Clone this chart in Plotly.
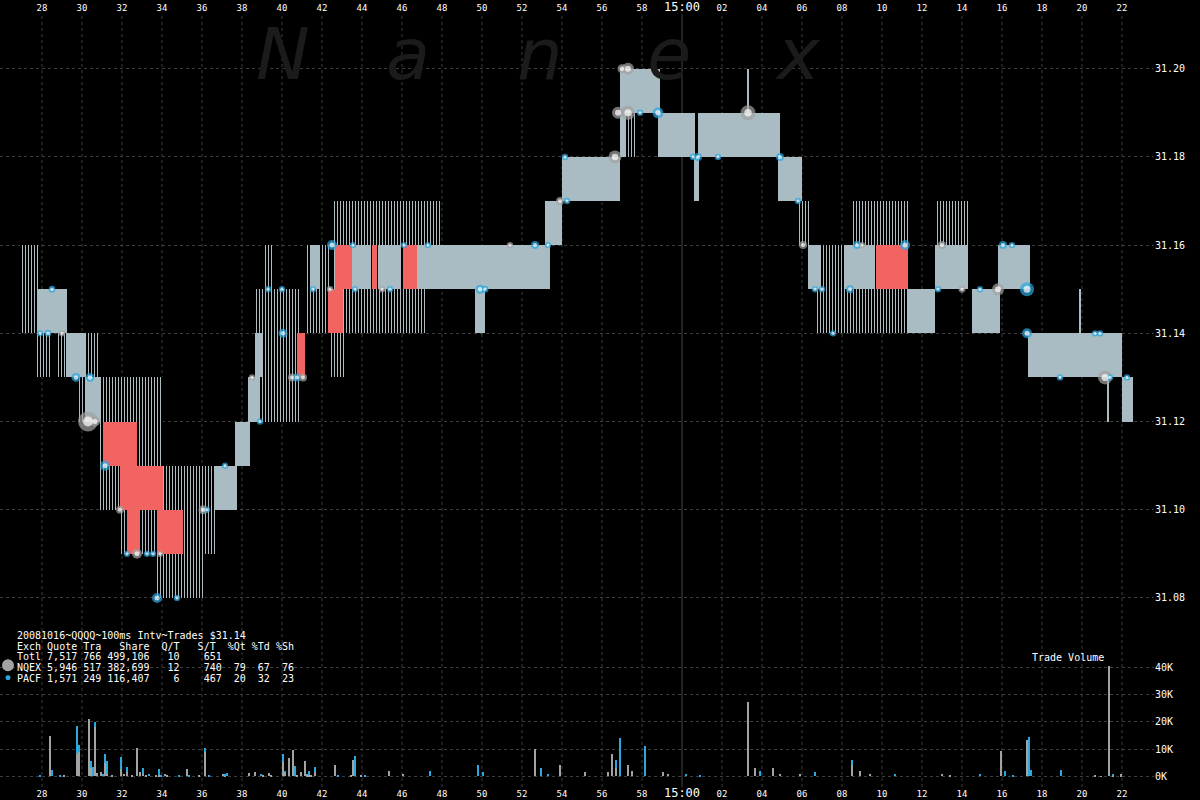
import plotly.graph_objects as go
import numpy as np

# ---------------- DATA ----------------
# minutes after 14:00
x_tick_minutes = [28, 30, 32, 34, 36, 38, 40, 42, 44, 46, 48, 50, 52, 54, 56, 58,
                  60, 62, 64, 66, 68, 70, 72, 74, 76, 78, 80, 82]
x_tick_labels = ["28", "30", "32", "34", "36", "38", "40", "42", "44", "46", "48", "50",
                 "52", "54", "56", "58", "15:00", "02", "04", "06", "08", "10", "12",
                 "14", "16", "18", "20", "22"]
price_ticks = [31.08, 31.10, 31.12, 31.14, 31.16, 31.18, 31.20]
price_tick_labels = ["31.08", "31.10", "31.12", "31.14", "31.16", "31.18", "31.20"]
vol_ticks = [0, 10000, 20000, 30000, 40000]
vol_tick_labels = ["0K", "10K", "20K", "30K", "40K"]

# sparse (hatched) quote intervals
hatch_start = [26.90, 27.75, 28.75, 30.15, 29.75, 30.90, 30.90, 34.05, 31.90, 33.65,
               38.65, 39.10, 41.15, 42.40, 42.55, 47.15, 57.00, 65.80, 66.65, 68.50,
               68.40, 72.65]
hatch_end = [27.80, 28.40, 29.25, 30.80, 30.90, 34.05, 31.90, 36.65, 34.05, 36.15,
             40.90, 39.50, 42.40, 43.15, 47.15, 47.90, 57.65, 66.40, 68.40, 71.40,
             72.65, 74.40]
hatch_bid = [31.14, 31.13, 31.13, 31.13, 31.12, 31.11, 31.10, 31.09, 31.09, 31.08,
             31.12, 31.15, 31.14, 31.13, 31.14, 31.16, 31.18, 31.16, 31.14, 31.15,
             31.14, 31.15]
hatch_ask = [31.16, 31.14, 31.14, 31.14, 31.13, 31.13, 31.11, 31.11, 31.10, 31.09,
             31.15, 31.16, 31.16, 31.14, 31.17, 31.17, 31.19, 31.17, 31.16, 31.17,
             31.15, 31.17]

# dense (solid) quote intervals
solid_start = [27.75, 29.20, 30.20, 36.65, 37.65, 38.30, 38.65, 41.40, 43.50, 44.80,
               46.75, 49.65, 50.15, 53.15, 54.00, 56.90, 57.00, 58.80, 60.60, 60.80,
               63.25, 64.80, 66.30, 68.15, 71.30, 72.65, 74.50, 75.80, 77.30, 82.00,
               79.85, 81.25]
solid_end = [29.25, 30.15, 30.90, 37.75, 38.40, 38.90, 39.00, 41.90, 44.40, 45.90,
             49.65, 50.15, 53.40, 54.00, 56.90, 57.15, 58.90, 60.65, 60.85, 64.90,
             63.35, 66.00, 66.90, 69.65, 72.65, 74.30, 75.90, 77.40, 82.00, 82.55,
             79.95, 81.35]
solid_bid = [31.14, 31.13, 31.12, 31.10, 31.11, 31.12, 31.13, 31.15, 31.15, 31.15,
             31.15, 31.14, 31.15, 31.16, 31.17, 31.18, 31.19, 31.18, 31.17, 31.18,
             31.19, 31.17, 31.15, 31.15, 31.14, 31.15, 31.14, 31.15, 31.13, 31.12,
             31.14, 31.12]
solid_ask = [31.15, 31.14, 31.13, 31.11, 31.12, 31.13, 31.14, 31.16, 31.16, 31.16,
             31.16, 31.16, 31.16, 31.17, 31.18, 31.20, 31.20, 31.19, 31.18, 31.19,
             31.20, 31.18, 31.16, 31.16, 31.15, 31.16, 31.15, 31.16, 31.14, 31.13,
             31.15, 31.13]

# crossed / locked quote intervals
red_start = [31.05, 31.90, 32.25, 33.75, 40.75, 42.30, 42.65, 44.50, 46.05, 69.70]
red_end = [32.75, 34.05, 32.90, 35.05, 41.15, 43.05, 43.50, 44.75, 46.75, 71.30]
red_bid = [31.11, 31.10, 31.09, 31.09, 31.13, 31.14, 31.15, 31.15, 31.15, 31.15]
red_ask = [31.12, 31.11, 31.10, 31.10, 31.14, 31.15, 31.16, 31.16, 31.16, 31.16]

# trades
trade_time = [28.5, 27.9, 28.3, 29.0, 29.7, 30.4, 30.3, 30.65, 31.15, 31.9,
              32.25, 32.75, 33.25, 33.55, 33.9, 33.75, 34.75, 36.05, 36.25, 37.15,
              38.5, 38.9, 39.3, 40.0, 40.05, 40.5, 40.75, 41.05, 41.55, 42.5,
              42.4, 43.55, 43.65, 45.0, 45.4, 46.1, 47.3, 49.9, 50.15, 51.4,
              52.65, 53.3, 53.9, 54.25, 54.15, 56.65, 57.0, 57.3, 56.8, 57.3,
              57.9, 58.8, 60.55, 60.8, 61.8, 63.3, 64.9, 65.8, 66.05, 66.65,
              67.0, 67.55, 68.4, 68.75, 69.0, 71.15, 72.8, 73.0, 74.0, 74.9,
              75.8, 76.05, 76.5, 77.25, 77.25, 78.9, 80.65, 80.9, 81.15, 81.4, 82.25]
trade_price = [31.15, 31.14, 31.14, 31.14, 31.13, 31.13, 31.12, 31.12, 31.11, 31.10,
               31.09, 31.09, 31.09, 31.09, 31.09, 31.08, 31.08, 31.10, 31.10, 31.11,
               31.13, 31.12, 31.15, 31.15, 31.14, 31.13, 31.13, 31.13, 31.15, 31.16,
               31.15, 31.16, 31.15, 31.15, 31.15, 31.16, 31.16, 31.15, 31.15, 31.16,
               31.16, 31.16, 31.17, 31.17, 31.18, 31.18, 31.20, 31.20, 31.19, 31.19,
               31.19, 31.19, 31.18, 31.18, 31.18, 31.19, 31.18, 31.17, 31.16, 31.15,
               31.15, 31.14, 31.15, 31.16, 31.16, 31.16, 31.15, 31.16, 31.15, 31.15,
               31.15, 31.16, 31.16, 31.15, 31.14, 31.13, 31.14, 31.14, 31.13, 31.13, 31.13]
trade_shares = [200, 100, 200, 100, 900, 900, 12500, 1400, 1400, 500,
                100, 1400, 100, 100, 100, 1400, 100, 900, 100, 100,
                100, 100, 100, 100, 900, 500, 500, 500, 100, 1400,
                100, 100, 100, 100, 100, 100, 100, 900, 200, 100,
                500, 100, 500, 100, 100, 3500, 900, 2700, 2700, 4500,
                100, 2000, 100, 500, 100, 5500, 500, 100, 500, 100,
                100, 100, 500, 500, 100, 1400, 100, 500, 200, 100,
                2700, 500, 100, 4500, 1400, 100, 100, 100, 4500, 100, 100]
trade_exch = ["P", "P", "P", "N", "P", "P", "N", "N", "P", "N",
              "P", "N", "P", "P", "N", "P", "P", "N", "P", "P",
              "N", "P", "P", "P", "P", "N", "P", "N", "P", "P",
              "N", "P", "P", "N", "P", "P", "P", "P", "P", "N",
              "P", "P", "N", "P", "P", "N", "N", "N", "N", "N",
              "P", "P", "P", "P", "P", "N", "P", "P", "N", "P",
              "P", "P", "P", "P", "N", "P", "P", "N", "N", "P",
              "N", "P", "P", "P", "P", "P", "P", "P", "N", "P", "P"]

# trade volume per interval (NQEX, PACF)
vol_time = [27.9, 28.4, 28.5, 28.9, 29.1, 29.75, 29.85, 30.35, 30.45, 30.55,
            30.65, 30.75, 30.95, 31.05, 31.15, 31.25, 31.5, 31.95, 32.1, 32.25,
            32.5, 32.75, 32.9, 33.05, 33.2, 33.35, 33.7, 33.85, 33.95, 34.15,
            34.25, 34.85, 35.25, 35.35, 35.85, 36.15, 36.35, 37.05, 37.15, 37.25,
            38.35, 38.65, 38.95, 39.05, 39.35, 39.45, 40.05, 40.15, 40.35, 40.55,
            40.65, 40.75, 40.95, 41.15, 41.25, 41.35, 41.45, 41.65, 42.65, 42.8,
            43.45, 43.55, 43.65, 43.95, 44.15, 45.35, 46.05, 47.4, 49.8, 50.05,
            52.65, 52.95, 53.3, 53.9, 55.15, 56.3, 56.5, 56.7, 56.9, 57.3,
            57.5, 58.15, 59.05, 59.3, 60.2, 60.9, 63.3, 63.65, 63.9, 64.55,
            64.9, 65.9, 66.65, 68.5, 68.9, 69.4, 70.65, 73.0, 73.4, 74.9,
            75.95, 76.15, 76.55, 77.25, 77.35, 77.45, 78.95, 80.65, 80.95, 81.35,
            81.55, 81.95]
vol_nqex = [0, 14800, 0, 0, 500, 8000, 8700, 20800, 3000, 0,
            18000, 1200, 1500, 0, 5000, 1000, 300, 2700, 800, 1500,
            200, 10500, 1500, 1000, 200, 0, 500, 500, 0, 800,
            200, 0, 2700, 0, 200, 9000, 0, 800, 300, 0,
            1200, 1500, 0, 200, 1200, 200, 5100, 1500, 6700, 9600,
            0, 200, 1500, 5600, 500, 500, 500, 1500, 4100, 0,
            200, 5900, 0, 300, 0, 1900, 1000, 0, 0, 0,
            10000, 0, 0, 4000, 1500, 1500, 8000, 3000, 0, 4000,
            2000, 0, 1500, 1000, 0, 0, 27000, 3000, 0, 3000,
            1000, 1000, 0, 4000, 2000, 1000, 0, 1000, 500, 0,
            9100, 0, 0, 13300, 0, 0, 0, 400, 100, 40200,
            300, 700]
vol_pacf = [500, 0, 2400, 300, 0, 10400, 2800, 0, 2700, 3300,
            1900, 0, 0, 800, 3100, 4500, 0, 4200, 0, 1800,
            0, 0, 0, 1900, 0, 800, 0, 2200, 600, 0,
            0, 200, 0, 500, 0, 1500, 200, 0, 300, 1200,
            0, 0, 800, 0, 0, 0, 3000, 500, 0, 0,
            3600, 0, 0, 0, 300, 1400, 0, 1800, 0, 200,
            0, 0, 7400, 0, 300, 0, 0, 2000, 4000, 1500,
            0, 3000, 1000, 0, 0, 0, 0, 3000, 14000, 0,
            0, 11000, 0, 0, 1000, 500, 0, 0, 2000, 0,
            0, 0, 1500, 2000, 0, 0, 1000, 0, 0, 1000,
            0, 1800, 400, 0, 14200, 2400, 2400, 0, 0, 0,
            300, 0]

# ---------------- FIGURE ----------------
W, H = 1200, 800
ML, MR, MT, MB = 0, 46, 12, 13
PW, PH = W - ML - MR, H - MT - MB

def px_x(p):
    return (p - ML) / PW

def px_y(p):
    return (H - MB - p) / PH

GREY = "#a3a3a3"
CYAN = "#2aa8e0"
SOLID = "#a9bcc3"
RED = "#f26461"
GRID = "#3c3c3c"
FONT = "DejaVu Sans Mono"

fig = go.Figure()

def spread_bars(start, end, bid, ask, marker):
    s = np.array(start); e = np.array(end)
    b = np.array(bid); a = np.array(ask)
    return go.Bar(x=(s + e) / 2, width=e - s, base=b, y=a - b,
                  xaxis="x2", yaxis="y", marker=marker, showlegend=False,
                  hoverinfo="skip")

fig.add_trace(spread_bars(hatch_start, hatch_end, hatch_bid, hatch_ask,
                         dict(color="black", line=dict(width=0),
                              pattern=dict(shape="|", size=3, solidity=0.34,
                                           fgcolor="#aebcc1", bgcolor="black",
                                           fillmode="replace"))))
fig.add_trace(spread_bars(solid_start, solid_end, solid_bid, solid_ask,
                         dict(color=SOLID, line=dict(width=0))))
fig.add_trace(spread_bars(red_start, red_end, red_bid, red_ask,
                         dict(color=RED, line=dict(width=0))))

# trades
t_size = 5 + 3 * np.sqrt(np.array(trade_shares) / 500.0)
t_col = [GREY if e == "N" else CYAN for e in trade_exch]
fig.add_trace(go.Scatter(x=trade_time, y=trade_price, mode="markers", xaxis="x2", yaxis="y",
                         marker=dict(size=t_size, color=t_col, line=dict(width=0)),
                         showlegend=False, hoverinfo="skip"))
fig.add_trace(go.Scatter(x=trade_time, y=trade_price, mode="markers", xaxis="x2", yaxis="y",
                         marker=dict(size=t_size * 0.5, color="white", line=dict(width=0)),
                         showlegend=False, hoverinfo="skip"))

# volume
fig.add_trace(go.Bar(x=vol_time, y=vol_nqex, width=0.1, marker=dict(color=GREY, line=dict(width=0)),
                     xaxis="x", yaxis="y2", showlegend=False, hoverinfo="skip"))
fig.add_trace(go.Bar(x=vol_time, y=vol_pacf, base=vol_nqex, width=0.1,
                     marker=dict(color=CYAN, line=dict(width=0)),
                     xaxis="x", yaxis="y2", showlegend=False, hoverinfo="skip"))

# vertical grid (full height)
shapes = []
for m in x_tick_minutes:
    if m == 60:
        shapes.append(dict(type="line", xref="x", yref="paper", x0=m, x1=m, y0=0, y1=1,
                           line=dict(color="#444444", width=1), layer="below"))
    else:
        shapes.append(dict(type="line", xref="x", yref="paper", x0=m, x1=m, y0=0, y1=1,
                           line=dict(color=GRID, width=1, dash="3px,3px"), layer="below"))

# legend dots beside the stats table
shapes.append(dict(type="circle", xref="paper", yref="paper",
                   x0=px_x(2), x1=px_x(14), y0=px_y(671), y1=px_y(659),
                   fillcolor=GREY, line=dict(width=0)))
shapes.append(dict(type="circle", xref="paper", yref="paper",
                   x0=px_x(5.5), x1=px_x(10.5), y0=px_y(680), y1=px_y(675),
                   fillcolor=CYAN, line=dict(width=0)))

annotations = []
# watermark
for letter, cx in zip(["N", "a", "n", "e", "x"], [283, 408, 540, 669, 798]):
    annotations.append(dict(text=letter, xref="paper", yref="paper", x=px_x(cx), y=px_y(52),
                            xanchor="center", yanchor="middle", showarrow=False,
                            font=dict(family="DejaVu Sans", size=72, color="#1b1b1b",
                                      style="italic")))

table_lines = [
    "20081016~QQQQ~100ms Intv~Trades $31.14",
    "Exch Quote Tra   Share  Q/T   S/T  %Qt %Td %Sh",
    "Totl 7,517 766 499,106   10    651",
    "NQEX 5,946 517 382,699   12    740  79  67  76",
    "PACF 1,571 249 116,407    6    467  20  32  23",
]
for i, line in enumerate(table_lines):
    annotations.append(dict(text=line.replace(" ", "&nbsp;"), xref="paper", yref="paper",
                            x=px_x(15), y=px_y(635 + i * 10.8), xanchor="left", yanchor="middle",
                            showarrow=False, font=dict(family=FONT, size=10, color="white")))

annotations.append(dict(text="Trade&nbsp;Volume", xref="paper", yref="paper", x=px_x(1068), y=px_y(657),
                        xanchor="center", yanchor="middle", showarrow=False,
                        font=dict(family=FONT, size=10, color="white")))

x_range = [25.9, 25.9 + PW / 20.0]
tick_text_fmt = [("<span style='font-size:12px'>%s</span>" % t) if t == "15:00" else t
                 for t in x_tick_labels]
axis_common = dict(range=x_range, tickvals=x_tick_minutes, ticktext=tick_text_fmt,
                   showgrid=False, zeroline=False, showline=False, ticks="",
                   tickfont=dict(family=FONT, size=9, color="white"))

fig.update_layout(
    width=W, height=H,
    margin=dict(l=ML, r=MR, t=MT, b=MB, pad=0),
    paper_bgcolor="black", plot_bgcolor="black",
    barmode="overlay", bargap=0,
    showlegend=False,
    xaxis=dict(domain=[0, 1], anchor="y2", side="bottom", **axis_common),
    xaxis2=dict(anchor="y", overlaying="x", side="top", matches="x", **axis_common),
    yaxis=dict(domain=[px_y(620), 1], anchor="x2", side="right",
               range=[31.0749, 31.2124], tickvals=price_ticks, ticktext=price_tick_labels,
               showgrid=True, gridcolor=GRID, griddash="3px,3px", gridwidth=1,
               zeroline=False, showline=False, ticks="",
               tickfont=dict(family=FONT, size=10, color="white")),
    yaxis2=dict(domain=[0, px_y(640)], anchor="x", side="right",
                range=[-3745, 49709], tickvals=vol_ticks, ticktext=vol_tick_labels,
                showgrid=True, gridcolor=GRID, griddash="3px,3px", gridwidth=1,
                zeroline=False, showline=False, ticks="",
                tickfont=dict(family=FONT, size=10, color="white")),
    shapes=shapes,
    annotations=annotations,
)

fig.write_html("out.html", config={"displayModeBar": False},
               post_script="document.body.style.margin='0';document.body.style.overflow='hidden';")
